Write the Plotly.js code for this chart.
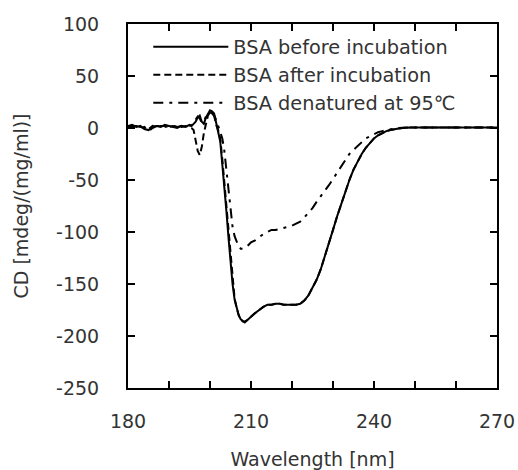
<!DOCTYPE html>
<html>
<head>
<meta charset="utf-8">
<script src="https://cdn.plot.ly/plotly-3.0.1.min.js"></script>
<style>html,body{margin:0;padding:0;background:#fff;}#chart{width:518px;height:470px;}</style>
</head>
<body>
<div id="chart"></div>
<script>
const wavelength = [180,181,182,183,184,185,186,187,188,189,190,191,192,193,194,195,
  195.5,196,196.5,197,197.5,198,198.5,199,199.5,200,200.5,201,201.5,202,202.5,203,203.5,204,204.5,205,205.5,206,206.5,207,207.5,208,208.5,209,209.5,210,
  211,212,213,214,215,216,217,218,219,220,221,222,223,224,225,226,227,228,229,230,231,232,233,234,235,236,237,238,239,240,
  241,242,243,244,245,246,247,248,249,250,251,252,253,254,255,256,257,258,259,260,261,262,263,264,265,266,267,268,269,270];

const beforeIncubation = [2,3,1,2,-1,-2,1,2,1,3,2,1,0,2,1,3,
  2,4,6,10,12,6,4,10,14,17,16,14,5,-5,-13,-35,-55,-80,-105,-128,-150,-165,-174,-180,-184,-186,-187,-185,-183,-181,
  -178,-175,-172,-170,-170,-169,-169,-170,-170,-170,-170,-169,-166,-161,-154,-146,-136,-124,-111,-98,-85,-73,-61,-50,-40,-32,-25,-19,-14,-10,
  -7,-5,-3,-2,-1,-0.5,0,0.5,0.5,0.5,0.5,0.5,0.5,0.5,0.5,0.5,0.5,0.5,0.5,0.5,0.5,0.5,0.5,0.5,0.5,0.5,0.5,0.5,0.5,0.5];

const afterIncubation = [1,2,2,1,0,-1,2,1,2,2,1,2,1,1,2,1,
  0,-2,-12,-22,-26,-18,-5,5,12,15,14,12,3,-2,-10,-30,-52,-78,-102,-126,-148,-164,-173,-180,-184,-186,-186,-185,-183,-181,
  -178,-175,-172,-170,-170,-169,-169,-170,-170,-170,-170,-169,-166,-161,-154,-146,-136,-124,-111,-98,-85,-73,-61,-50,-40,-32,-25,-19,-14,-10,
  -7,-5,-3,-2,-1,-0.5,0,0.5,0.5,0.5,0.5,0.5,0.5,0.5,0.5,0.5,0.5,0.5,0.5,0.5,0.5,0.5,0.5,0.5,0.5,0.5,0.5,0.5,0.5,0.5];

const denatured95 = [1,2,2,0,1,-3,0,2,2,1,2,2,1,2,2,2,
  3,5,8,11,9,5,6,11,13,15,14,12,8,2,-5,-10,-22,-40,-60,-80,-95,-104,-110,-114,-116,-116,-115,-114,-112,-110,
  -108,-105,-102,-100,-98,-98,-97,-96,-95,-94,-92,-90,-86,-82,-77,-71,-66,-60,-55,-49,-43,-36,-30,-25,-21,-17,-13,-10,-8,-6,
  -4,-3,-2,-1,-0.5,0,0.5,0.5,0.5,0.5,0.5,0.5,0.5,0.5,0.5,0.5,0.5,0.5,0.5,0.5,0.5,0.5,0.5,0.5,0.5,0.5,0.5,0.5,0.5,0.5];

const seriesNames = ["BSA before incubation", "BSA after incubation", "BSA denatured at 95\u2103"];
const xLabelVals = [180,210,240,270];
const xLabelText = ["180","210","240","270"];
const xTickVals = [180,190,200,210,220,230,240,250,260,270];
const yTickVals = [100,50,0,-50,-100,-150,-200,-250];
const yTickText = ["100","50","0","-50","-100","-150","-200","-250"];
const xRange = [180, 270];
const yRange = [-250, 100];

const FONT = "DejaVu Sans, sans-serif";
const TXT = "#333";
// Label axes (x, y) carry the tick labels; frame axes (x2, y2) draw the box and inward ticks.
const traces = [
  {x: wavelength, y: beforeIncubation, name: seriesNames[0], mode: "lines", xaxis: "x", yaxis: "y", line: {color: "#000", width: 2, dash: "solid"}},
  {x: wavelength, y: afterIncubation, name: seriesNames[1], mode: "lines", xaxis: "x", yaxis: "y", line: {color: "#000", width: 2, dash: "7px,4px"}},
  {x: wavelength, y: denatured95, name: seriesNames[2], mode: "lines", xaxis: "x2", yaxis: "y2", line: {color: "#000", width: 2, dash: "10px,6px,3px,6px"}}
];

const layout = {
  width: 518, height: 470,
  margin: {l: 128, r: 21, t: 24, b: 82},
  paper_bgcolor: "#fff", plot_bgcolor: "#fff",
  font: {family: FONT, size: 19, color: TXT},
  showlegend: true,
  legend: {x: 0.055, y: 0.99, xanchor: "left", yanchor: "top", bgcolor: "rgba(0,0,0,0)",
           font: {family: FONT, size: 19.3, color: TXT}, itemwidth: 75, tracegroupgap: 0},
  xaxis: {
    range: xRange, tickmode: "array", tickvals: xLabelVals, ticktext: xLabelText,
    ticks: "outside", ticklen: 16, tickcolor: "rgba(0,0,0,0)",
    showline: false, showgrid: false, zeroline: false,
    tickfont: {family: FONT, size: 19, color: TXT},
    title: {text: "Wavelength [nm]", standoff: 28, font: {family: FONT, size: 19, color: TXT}}
  },
  yaxis: {
    range: yRange, tickmode: "array", tickvals: yTickVals, ticktext: yTickText,
    ticks: "outside", ticklen: 24, tickcolor: "rgba(0,0,0,0)",
    showline: false, showgrid: false, zeroline: false,
    tickfont: {family: FONT, size: 19, color: TXT},
    title: {text: "CD [mdeg/(mg/ml)]", standoff: 22, font: {family: FONT, size: 19, color: TXT}}
  },
  xaxis2: {
    overlaying: "x", anchor: "y2", side: "bottom", range: xRange,
    tickmode: "array", tickvals: xTickVals, showticklabels: false,
    ticks: "inside", ticklen: 7, tickwidth: 2, tickcolor: "#000",
    showline: true, linecolor: "#000", linewidth: 2, mirror: "allticks",
    showgrid: false, zeroline: false
  },
  yaxis2: {
    overlaying: "y", anchor: "x2", side: "left", range: yRange,
    tickmode: "array", tickvals: yTickVals, showticklabels: false,
    ticks: "inside", ticklen: 7, tickwidth: 2, tickcolor: "#000",
    showline: true, linecolor: "#000", linewidth: 2, mirror: "allticks",
    showgrid: false, zeroline: false
  }
};

Plotly.newPlot("chart", traces, layout, {displayModeBar: false, staticPlot: true});
</script>
</body>
</html>
